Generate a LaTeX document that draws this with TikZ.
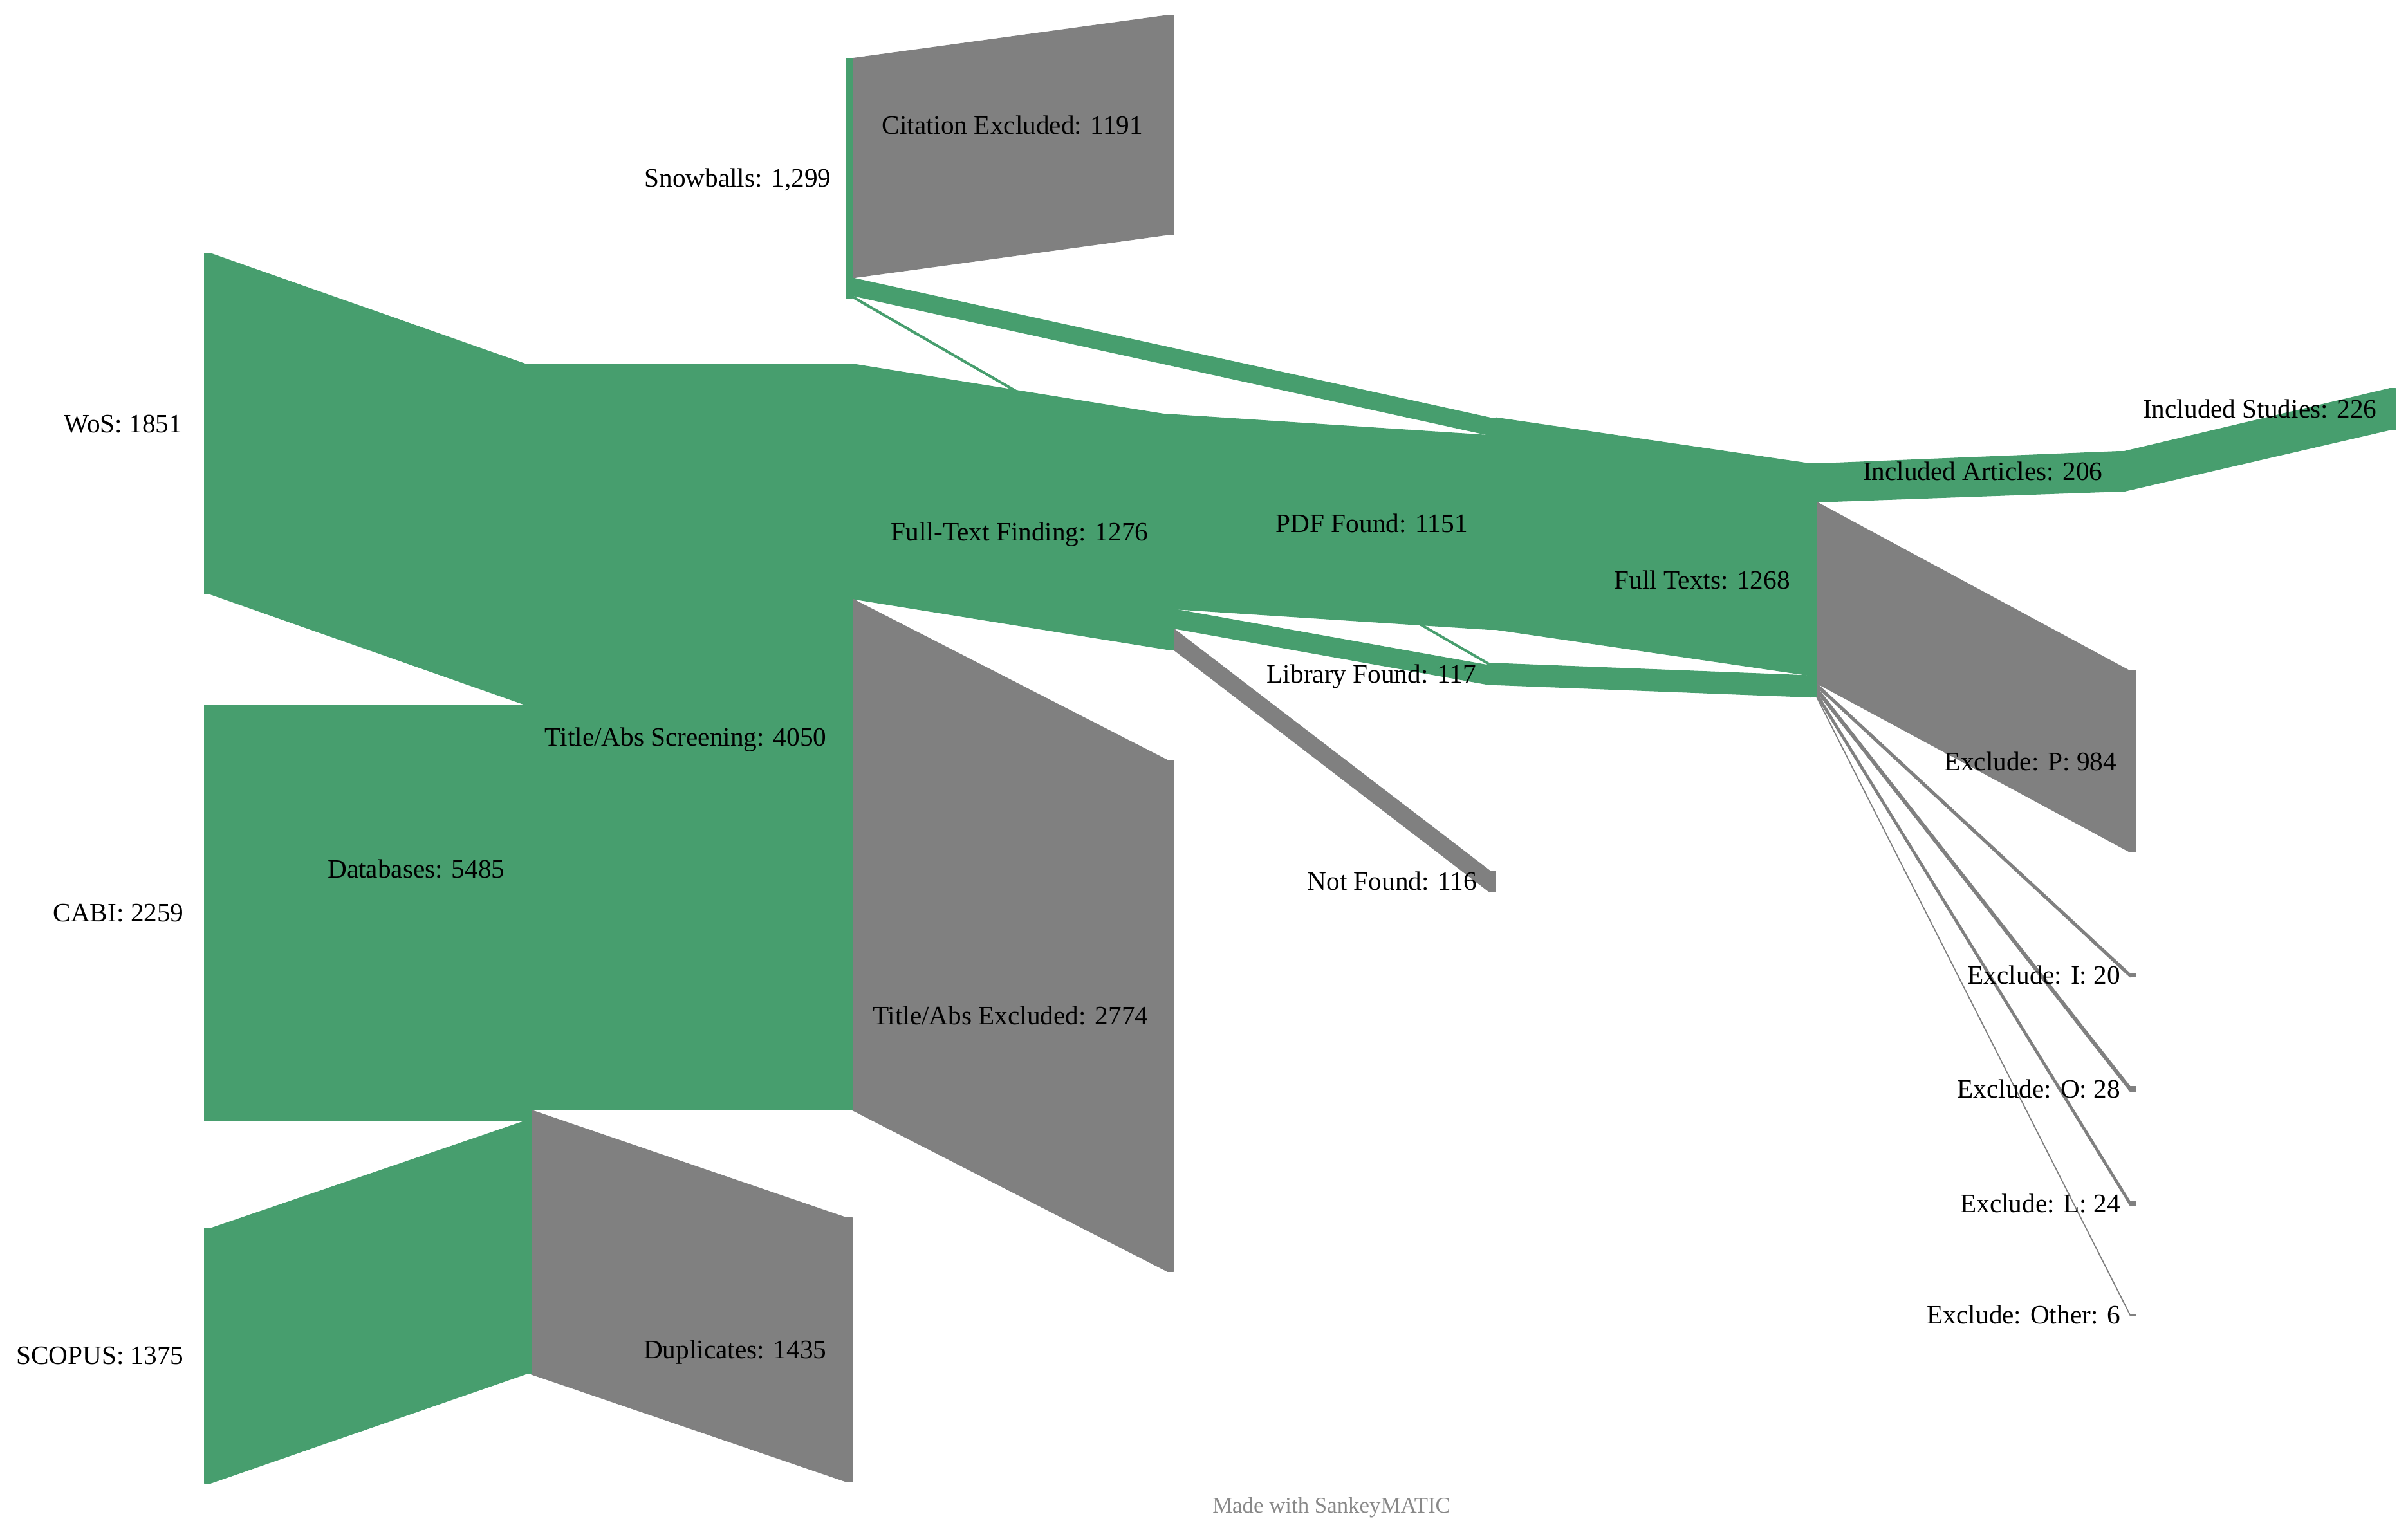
\documentclass[tikz,border=0pt]{standalone}
\usepackage{fontspec}
\setmainfont{Liberation Serif}
\usepackage{tikz}

\definecolor{flowgreen}{RGB}{71,158,110}
\definecolor{flowgray}{RGB}{128,128,128}
\definecolor{creditgray}{RGB}{136,136,136}

% band: x1, top1, bottom1, x2, top2, bottom2, style
\newcommand{\flowband}[7]{\filldraw[#7] (#1,#2) -- (#4,#5) -- (#4,#6) -- (#1,#3) -- cycle;}
% stage: name, x, top, bottom, style, label x, label
\newcommand{\stage}[7]{%
  \filldraw[#5] (#2,#3) rectangle (#2+4,#4);
  \node[lbl] (#1) at (#6,{(#3+#4)/2+5.7}) {#7};}

\begin{document}
\begin{tikzpicture}[x=0.02cm, y=-0.02cm,
  kept/.style={fill=flowgreen, draw=flowgreen, line width=0.25pt, line join=round},
  dropped/.style={fill=flowgray, draw=flowgray, line width=0.25pt, line join=round},
  lbl/.style={font=\fontsize{9.84}{11}\selectfont, anchor=base east, inner sep=0pt}]
\useasboundingbox (0,0) rectangle (1568,1002);

\flowband{137}{165}{387}{342}{237}{459}{kept}
\flowband{137}{459}{730}{342}{459}{730}{kept}
\flowband{137}{800}{966}{342}{730}{895}{kept}
\flowband{346}{237}{723}{551}{237}{723}{kept}
\flowband{346}{723}{895}{551}{793}{965}{dropped}
\flowband{555}{38}{181}{760}{10}{153}{dropped}
\flowband{555}{181}{192.5}{970}{272}{283.5}{kept}
\flowband{555}{192.5}{194}{970}{432}{433.4}{kept}
\flowband{555}{237}{390}{760}{270}{423}{kept}
\flowband{555}{390}{723}{760}{495}{828}{dropped}
\flowband{764}{270}{396.6}{970}{283.5}{410}{kept}
\flowband{764}{396.6}{409.2}{970}{433.4}{446}{kept}
\flowband{764}{409.2}{423}{970}{567}{581}{dropped}
\flowband{974}{272}{410}{1179}{302}{440}{kept}
\flowband{974}{432}{446}{1179}{440}{454}{kept}
\flowband{1183}{302}{327}{1379}{294}{320}{kept}
\flowband{1183}{327}{445}{1387}{437}{555}{dropped}
\flowband{1183}{445}{447.4}{1387}{634}{636.4}{dropped}
\flowband{1183}{447.4}{450.8}{1387}{707.5}{710.9}{dropped}
\flowband{1183}{450.8}{453.7}{1387}{782.3}{785.2}{dropped}
\flowband{1183}{453.7}{454.4}{1387}{856}{856.7}{dropped}
\flowband{1383}{294}{320}{1556}{253}{280}{kept}

\stage{wos}{133}{165}{387}{kept}{119}{WoS: 1851}
\stage{cabi}{133}{459}{730}{kept}{120}{CABI: 2259}
\stage{scopus}{133}{800}{966}{kept}{120}{SCOPUS: 1375}
\stage{databases}{342}{237}{895}{kept}{329}{Databases: 5485}
\stage{screening}{551}{237}{723}{kept}{538.5}{Title/Abs Screening: 4050}
\stage{snowballs}{551}{38}{194}{kept}{541.5}{Snowballs: 1,299}
\stage{duplicates}{551}{793}{965}{dropped}{538.5}{Duplicates: 1435}
\stage{citexcl}{760}{10}{153}{dropped}{744.5}{Citation Excluded: 1191}
\stage{textfinding}{760}{270}{423}{kept}{748}{Full-Text Finding: 1276}
\stage{taexcl}{760}{495}{828}{dropped}{748}{Title/Abs Excluded: 2774}
\stage{pdf}{970}{272}{410}{kept}{956}{PDF Found: 1151}
\stage{library}{970}{432}{446}{kept}{961.5}{Library Found: 117}
\stage{notfound}{970}{567}{581}{dropped}{962}{Not Found: 116}
\stage{fulltexts}{1179}{302}{454}{kept}{1166}{Full Texts: 1268}
\stage{articles}{1379}{294}{320}{kept}{1369.5}{Included Articles: 206}
\stage{exclp}{1387}{437}{555}{dropped}{1378.5}{Exclude: P: 984}
\stage{excli}{1387}{634}{636.4}{dropped}{1381}{Exclude: I: 20}
\stage{exclo}{1387}{707.5}{710.9}{dropped}{1381}{Exclude: O: 28}
\stage{excll}{1387}{782.3}{785.2}{dropped}{1381}{Exclude: L: 24}
\stage{exclother}{1387}{856}{856.7}{dropped}{1381}{Exclude: Other: 6}
\stage{studies}{1556}{253}{280}{kept}{1548}{Included Studies: 226}

\node[font=\fontsize{8.31}{10}\selectfont, text=creditgray, inner sep=0pt] (credit) at (867,982) {Made with SankeyMATIC};
\end{tikzpicture}
\end{document}
